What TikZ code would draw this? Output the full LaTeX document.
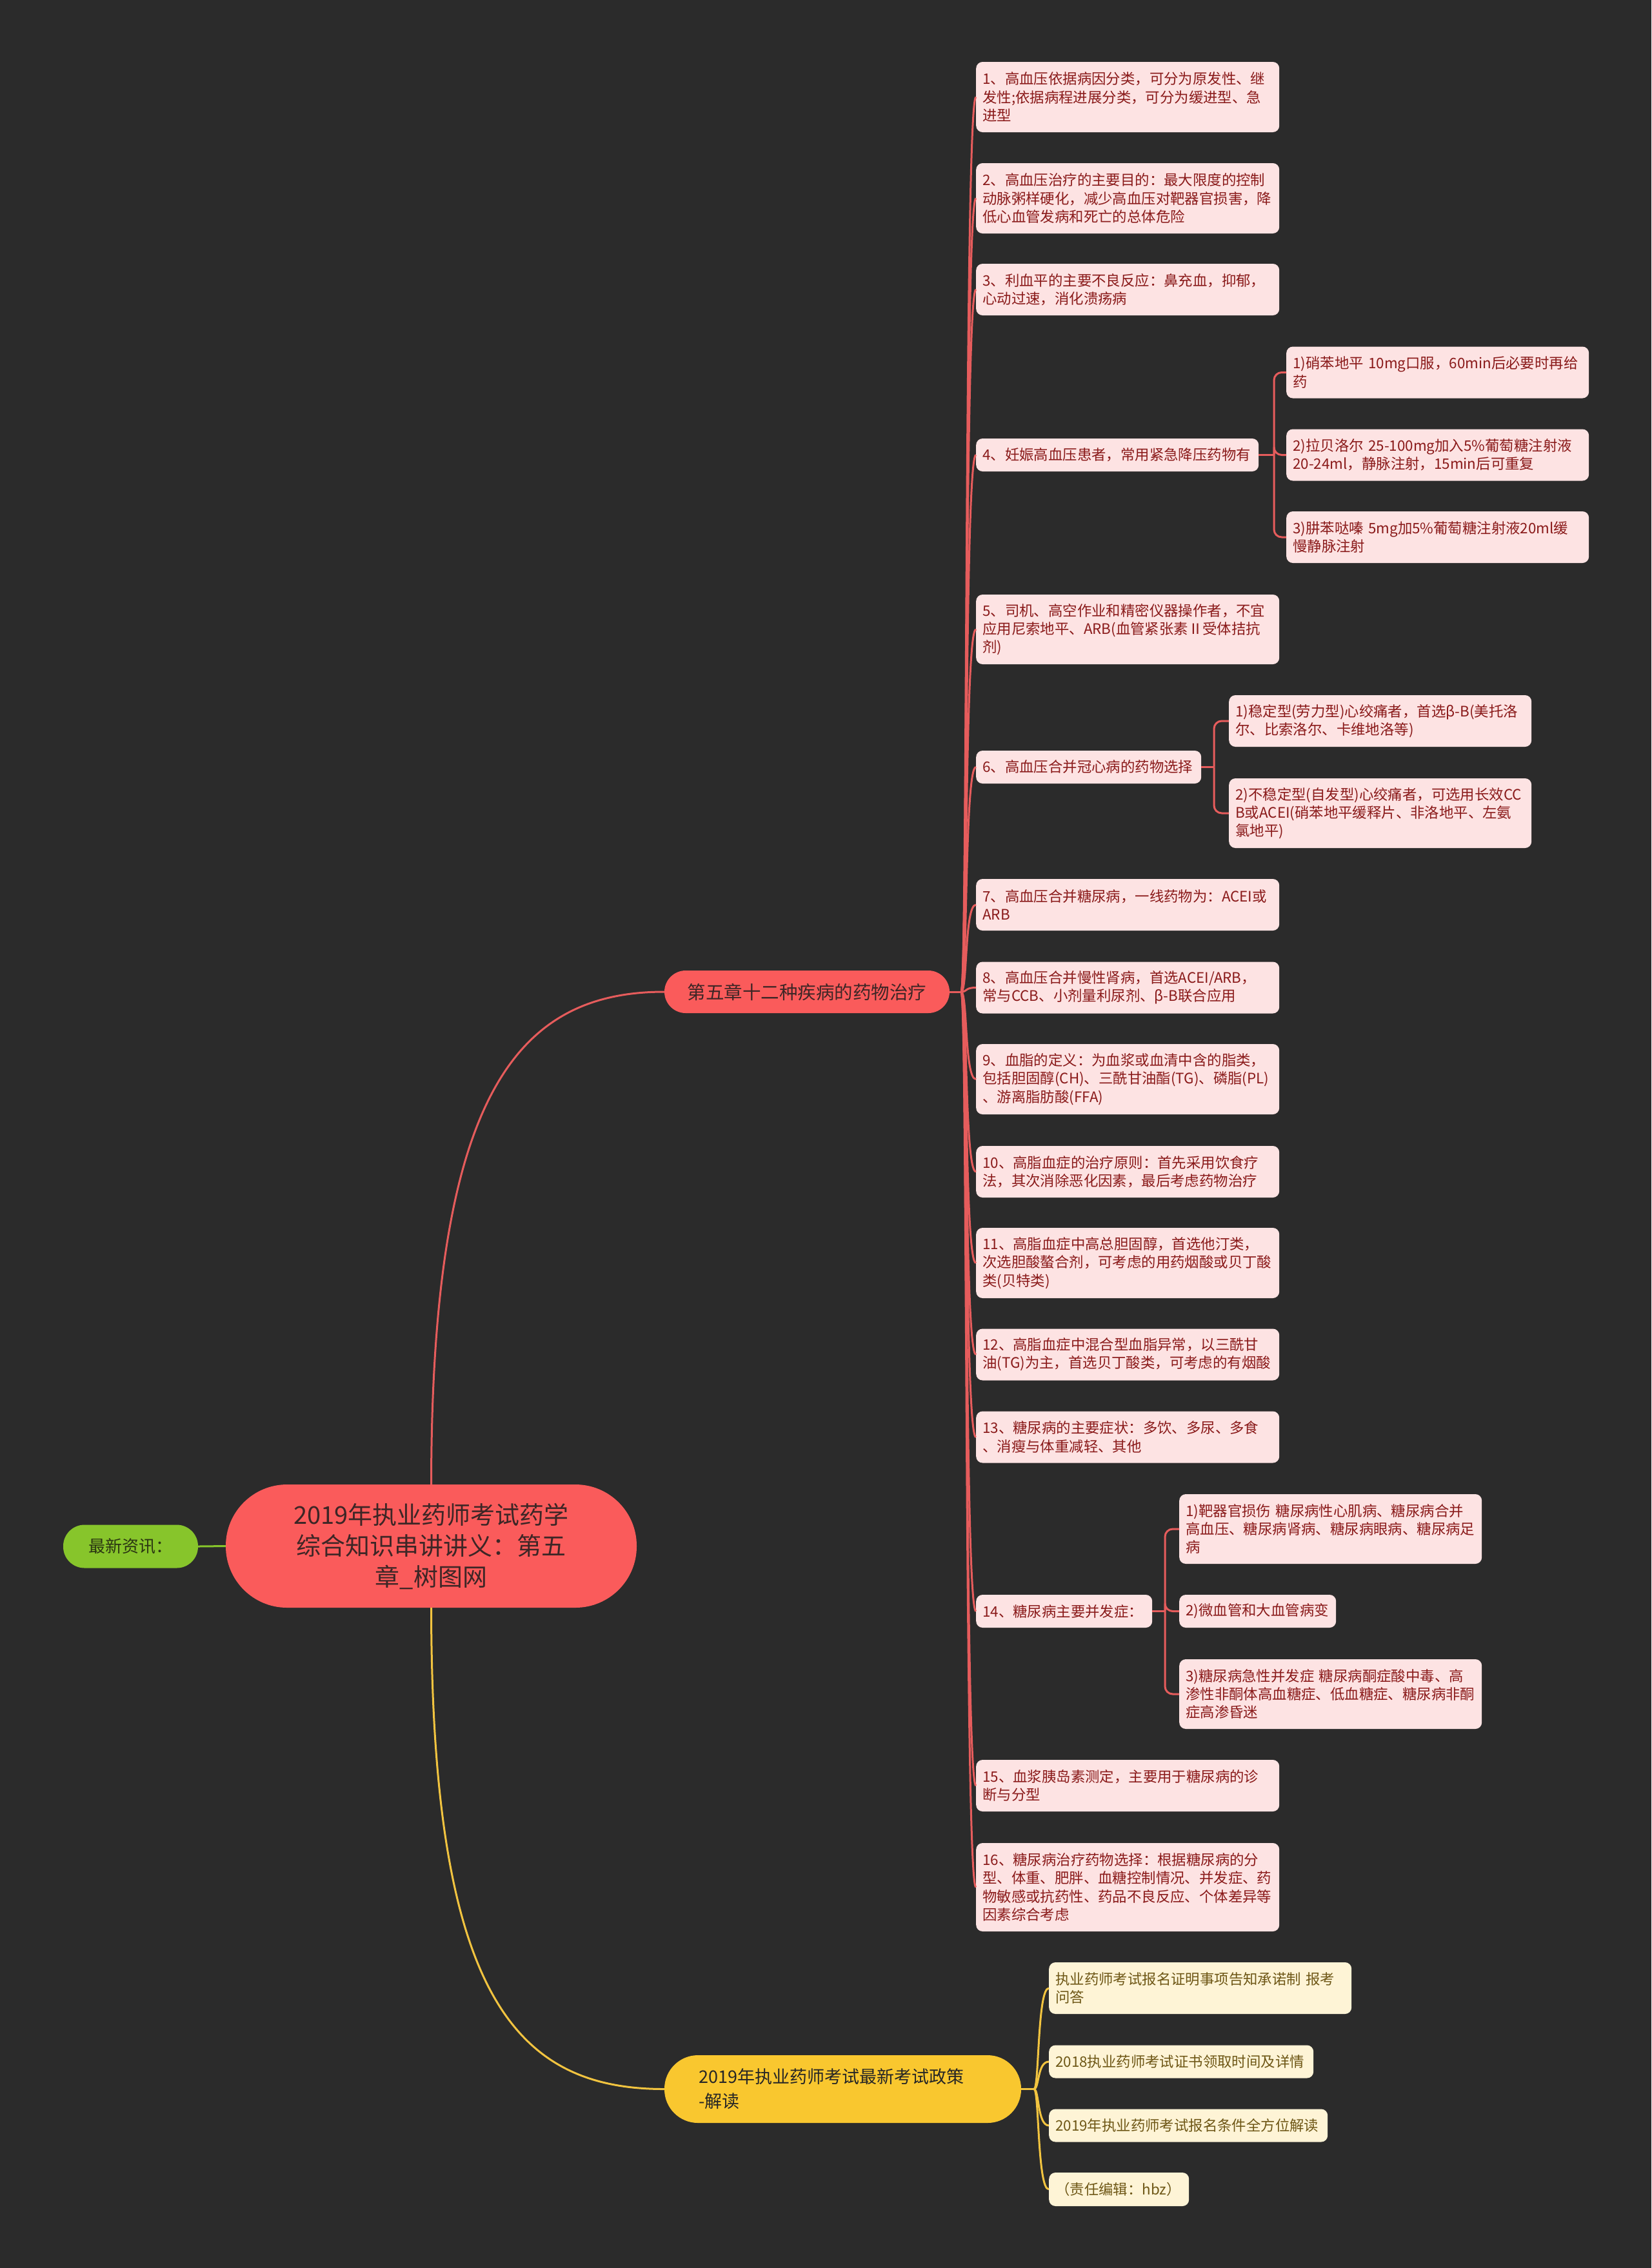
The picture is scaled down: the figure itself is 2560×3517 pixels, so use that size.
\documentclass[tikz,border=0pt]{standalone}
\usepackage{fontspec}
\setmainfont{Noto Sans CJK SC}
\usetikzlibrary{calc}
\definecolor{bg}{HTML}{2B2B2B}
\definecolor{nodered}{HTML}{FA5B5B}
\definecolor{linered}{HTML}{E65C5C}
\definecolor{leaffill}{HTML}{FDE3E3}
\definecolor{leaftext}{HTML}{8A1A1A}
\definecolor{darktext}{HTML}{3D2626}
\definecolor{nodeyellow}{HTML}{F9C72F}
\definecolor{lineyellow}{HTML}{F2C440}
\definecolor{yleaffill}{HTML}{FEF4D6}
\definecolor{yleaftext}{HTML}{6E5716}
\definecolor{nodegreen}{HTML}{87C52B}
\definecolor{greentext}{HTML}{2A3512}
\tikzset{
  leafbox/.style={rectangle, rounded corners=10pt, fill=leaffill, text=leaftext,
    font=\fontsize{22.4}{28.3}\selectfont, align=left, inner xsep=10pt, inner ysep=4pt, anchor=west},
  yleafbox/.style={leafbox, fill=yleaffill, text=yleaftext},
  redline/.style={draw=linered, line width=3pt},
  yline/.style={draw=lineyellow, line width=3pt},
  gline/.style={draw=nodegreen, line width=3pt},
  rootbox/.style={rectangle, rounded corners=95pt, fill=nodered, text=darktext, align=center,
    font=\fontsize{38}{48}\selectfont, minimum width=637pt, minimum height=191pt, inner sep=4pt},
  branchred/.style={rectangle, rounded corners=33pt, fill=nodered, text=darktext, align=center,
    font=\fontsize{28.5}{36}\selectfont, minimum width=442pt, minimum height=66pt, inner sep=4pt},
  branchyellow/.style={rectangle, rounded corners=52pt, fill=nodeyellow, text=black!85, align=left,
    font=\fontsize{27}{38}\selectfont, minimum width=553pt, minimum height=105pt, inner sep=4pt, text width=446pt},
  greenbox/.style={rectangle, rounded corners=33pt, fill=nodegreen, text=greentext, align=center,
    font=\fontsize{26}{32}\selectfont, minimum width=209pt, minimum height=67pt, inner sep=4pt}
}
\begin{document}
\begin{tikzpicture}[x=1pt,y=-1pt]
\fill[bg] (0,0) rectangle (2560,3517);
\useasboundingbox (0,0) rectangle (2560,3517);

% main nodes
\node[rootbox] (root) at (668.5,2397.5) {2019年执业药师考试药学\\综合知识串讲讲义：第五\\章\_树图网};
\node[greenbox] (news) at (202.5,2398) {最新资讯：};
\node[branchred] (b1) at (1251,1538) {第五章十二种疾病的药物治疗};
\node[branchyellow] (b2) at (1306.5,3239.5) {2019年执业药师考试最新考试政策\\-解读};

% red leaves
\node[leafbox, text width=450pt, minimum height=109pt] (c1) at (1513,150.5) {1、高血压依据病因分类，可分为原发性、继\\发性;依据病程进展分类，可分为缓进型、急\\进型};
\node[leafbox, text width=450pt, minimum height=109pt] (c2) at (1513,307.5) {2、高血压治疗的主要目的：最大限度的控制\\动脉粥样硬化，减少高血压对靶器官损害，降\\低心血管发病和死亡的总体危险};
\node[leafbox, text width=450pt, minimum height=80pt] (c3) at (1513,449) {3、利血平的主要不良反应：鼻充血，抑郁，\\心动过速，消化溃疡病};
\node[leafbox, text width=418pt, minimum height=51pt] (c4) at (1513,705.5) {4、妊娠高血压患者，常用紧急降压药物有};
\node[leafbox, text width=449pt, minimum height=80pt] (c41) at (1994,577.5) {1)硝苯地平 10mg口服，60min后必要时再给\\药};
\node[leafbox, text width=449pt, minimum height=80pt] (c42) at (1994,705.5) {2)拉贝洛尔 25-100mg加入5\%葡萄糖注射液\\20-24ml，静脉注射，15min后可重复};
\node[leafbox, text width=449pt, minimum height=80pt] (c43) at (1994,833) {3)肼苯哒嗪 5mg加5\%葡萄糖注射液20ml缓\\慢静脉注射};
\node[leafbox, text width=450pt, minimum height=108pt] (c5) at (1513,976) {5、司机、高空作业和精密仪器操作者，不宜\\应用尼索地平、ARB(血管紧张素Ⅱ受体拮抗\\剂)};
\node[leafbox, text width=329pt, minimum height=51pt] (c6) at (1513,1189.5) {6、高血压合并冠心病的药物选择};
\node[leafbox, text width=449pt, minimum height=80pt] (c61) at (1905,1118) {1)稳定型(劳力型)心绞痛者，首选β-B(美托洛\\尔、比索洛尔、卡维地洛等)};
\node[leafbox, text width=449pt, minimum height=108pt] (c62) at (1905,1261) {2)不稳定型(自发型)心绞痛者，可选用长效CC\\B或ACEI(硝苯地平缓释片、非洛地平、左氨\\氯地平)};
\node[leafbox, text width=450pt, minimum height=80pt] (c7) at (1513,1403) {7、高血压合并糖尿病，一线药物为：ACEI或\\ARB};
\node[leafbox, text width=450pt, minimum height=80pt] (c8) at (1513,1531.5) {8、高血压合并慢性肾病，首选ACEI/ARB，\\常与CCB、小剂量利尿剂、β-B联合应用};
\node[leafbox, text width=450pt, minimum height=109pt] (c9) at (1513,1673.5) {9、血脂的定义：为血浆或血清中含的脂类，\\包括胆固醇(CH)、三酰甘油酯(TG)、磷脂(PL)\\、游离脂肪酸(FFA)};
\node[leafbox, text width=450pt, minimum height=80pt] (c10) at (1513,1817) {10、高脂血症的治疗原则：首先采用饮食疗\\法，其次消除恶化因素，最后考虑药物治疗};
\node[leafbox, text width=450pt, minimum height=109pt] (c11) at (1513,1958.5) {11、高脂血症中高总胆固醇，首选他汀类，\\次选胆酸螯合剂，可考虑的用药烟酸或贝丁酸\\类(贝特类)};
\node[leafbox, text width=450pt, minimum height=80pt] (c12) at (1513,2100.5) {12、高脂血症中混合型血脂异常，以三酰甘\\油(TG)为主，首选贝丁酸类，可考虑的有烟酸};
\node[leafbox, text width=450pt, minimum height=80pt] (c13) at (1513,2228.5) {13、糖尿病的主要症状：多饮、多尿、多食\\、消瘦与体重减轻、其他};
\node[leafbox, text width=253pt, minimum height=51pt] (c14) at (1513,2498.5) {14、糖尿病主要并发症：};
\node[leafbox, text width=449pt, minimum height=108pt] (c141) at (1828,2371) {1)靶器官损伤 糖尿病性心肌病、糖尿病合并\\高血压、糖尿病肾病、糖尿病眼病、糖尿病足\\病};
\node[leafbox, text width=223pt, minimum height=51pt] (c142) at (1828,2498.5) {2)微血管和大血管病变};
\node[leafbox, text width=449pt, minimum height=108pt] (c143) at (1828,2627) {3)糖尿病急性并发症 糖尿病酮症酸中毒、高\\渗性非酮体高血糖症、低血糖症、糖尿病非酮\\症高渗昏迷};
\node[leafbox, text width=450pt, minimum height=80pt] (c15) at (1513,2769) {15、血浆胰岛素测定，主要用于糖尿病的诊\\断与分型};
\node[leafbox, text width=450pt, minimum height=137pt] (c16) at (1513,2926.5) {16、糖尿病治疗药物选择：根据糖尿病的分\\型、体重、肥胖、血糖控制情况、并发症、药\\物敏感或抗药性、药品不良反应、个体差异等\\因素综合考虑};

% yellow leaves
\node[yleafbox, text width=449pt, minimum height=80pt] (y1) at (1626,3083) {执业药师考试报名证明事项告知承诺制 报考\\问答};
\node[yleafbox, text width=390pt, minimum height=51pt] (y2) at (1626,3197) {2018执业药师考试证书领取时间及详情};
\node[yleafbox, text width=412pt, minimum height=51pt] (y3) at (1626,3296) {2019年执业药师考试报名条件全方位解读};
\node[yleafbox, text width=197pt, minimum height=52pt] (y4) at (1626,3395) {（责任编辑：hbz）};

% junction coordinates
\coordinate (j1) at (1490,1538);
\coordinate (j4) at (1975,705.5);
\coordinate (j6) at (1882,1189.5);
\coordinate (j14) at (1806,2498.5);
\coordinate (jy) at (1603,3239.5);

% root connectors
\draw[gline] (news.east) -- (root.west);
\draw[redline] (root.north) .. controls (669,1700) and (800,1538) .. (b1.west);
\draw[yline] (root.south) .. controls (669,3095) and (800,3239.5) .. (b2.west);

% red trunk
\draw[redline] (b1.east) -- (j1);
\foreach \c in {c1,c2,c3,c4,c5,c6,c7,c8,c9,c10,c11,c12,c13,c14,c15,c16}
  \draw[redline] (j1) .. controls +(10,0) and +(-18,0) .. (\c.west);

% sub trunks
\draw[redline] (c4.east) -- (j4);
\foreach \c in {c41,c42,c43}
  \draw[redline, rounded corners=12pt] (j4) |- (\c.west);
\draw[redline] (c6.east) -- (j6);
\foreach \c in {c61,c62}
  \draw[redline, rounded corners=12pt] (j6) |- (\c.west);
\draw[redline] (c14.east) -- (j14);
\foreach \c in {c141,c142,c143}
  \draw[redline, rounded corners=12pt] (j14) |- (\c.west);

% yellow trunk
\draw[yline] (b2.east) -- (jy);
\foreach \c in {y1,y2,y3,y4}
  \draw[yline] (jy) .. controls +(8,0) and +(-18,0) .. (\c.west);
\end{tikzpicture}
\end{document}
